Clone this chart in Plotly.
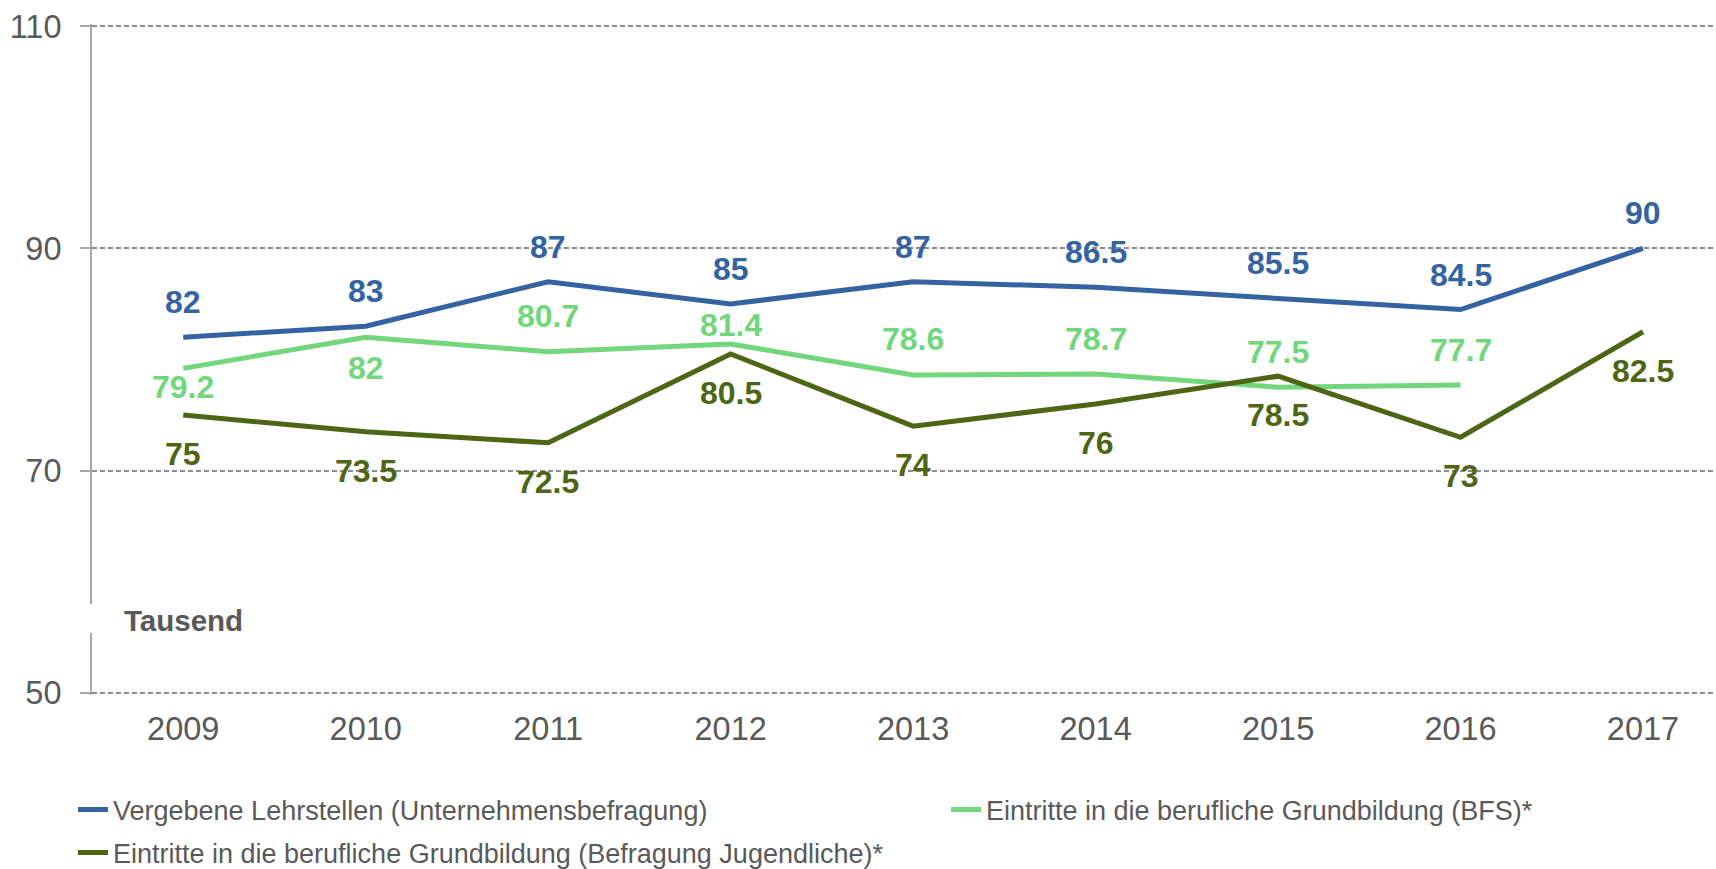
import plotly.graph_objects as go

years = ["2009", "2010", "2011", "2012", "2013", "2014", "2015", "2016", "2017"]
lehrstellen = [82, 83, 87, 85, 87, 86.5, 85.5, 84.5, 90]
bfs = [79.2, 82, 80.7, 81.4, 78.6, 78.7, 77.5, 77.7, None]
jugendliche = [75, 73.5, 72.5, 80.5, 74, 76, 78.5, 73, 82.5]
y_ticks = [50, 70, 90, 110]

names = [
    "Vergebene Lehrstellen (Unternehmensbefragung)",
    "Eintritte in die berufliche Grundbildung (BFS)*",
    "Eintritte in die berufliche Grundbildung (Befragung Jugendliche)*",
]
colors = ["#3462A3", "#72D67C", "#4E6515"]
series = [lehrstellen, bfs, jugendliche]

# label offsets (pixels, + = above)
label_shifts = [
    [35] * 9,
    [-19, -31, 36, 19, 36, 35, 35, 35, 0],
    [-39] * 9,
]

W, H = 1716, 869
L, T, B = 92, 24, 174
FONT = "Liberation Sans, Arial, sans-serif"
GRAY = "#595959"
PH = H - B - T  # plot height in px
PW = W - L


def py(px):
    """pixel row -> paper y"""
    return (H - B - px) / PH


def px_(x):
    """pixel column -> paper x"""
    return (x - L) / PW


fig = go.Figure()
legend_ids = ["legend", "legend2", "legend3"]
for i in range(3):
    fig.add_trace(go.Scatter(
        x=years, y=series[i], name=names[i], mode="lines",
        line=dict(color=colors[i], width=5),
        connectgaps=False, legend=legend_ids[i], hoverinfo="x+y+name",
    ))

annotations = []
for i in range(3):
    for k, (v, s) in enumerate(zip(series[i], label_shifts[i])):
        if v is None:
            continue
        annotations.append(dict(
            x=k, y=v, xref="x", yref="y", text=f"<b>{v:g}</b>", showarrow=False,
            yshift=s, font=dict(family=FONT, size=32, color=colors[i]),
        ))

annotations.append(dict(
    xref="paper", yref="paper", x=px_(122), y=py(620),
    xanchor="left", yanchor="middle", text="<b>Tausend</b>", showarrow=False,
    font=dict(family=FONT, size=29.5, color=GRAY),
))

shapes = [dict(
    type="rect", xref="paper", yref="paper",
    x0=px_(86), x1=px_(245), y0=py(633), y1=py(604),
    fillcolor="white", line=dict(width=0), layer="above",
)]

leg_common = dict(
    xref="container", yref="container", orientation="h",
    font=dict(family=FONT, size=27, color=GRAY), bgcolor="rgba(0,0,0,0)",
    xanchor="left", yanchor="middle", itemwidth=30,
)

fig.update_layout(
    width=W, height=H,
    margin=dict(l=L, r=0, t=T, b=B),
    plot_bgcolor="white", paper_bgcolor="white",
    font=dict(family=FONT, color=GRAY),
    xaxis=dict(
        type="category", range=[-0.5, 8.4], showgrid=False, zeroline=False,
        showline=False, ticks="", tickfont=dict(size=32.5, color=GRAY),
        ticklabelstandoff=11,
    ),
    yaxis=dict(
        range=[49.8, 110.2], tickvals=y_ticks, showgrid=True,
        gridcolor="#8C8C8C", griddash="5px,3px", gridwidth=1.5,
        zeroline=False, showline=True, linecolor="#A6A6A6", linewidth=2,
        ticks="outside", ticklen=10, tickcolor="#A6A6A6", tickwidth=1.5,
        tickfont=dict(size=32.5, color=GRAY), ticklabelstandoff=12,
    ),
    legend=dict(x=(115 - 42) / W, y=1 - 810 / H, **leg_common),
    legend2=dict(x=(988 - 42) / W, y=1 - 810 / H, **leg_common),
    legend3=dict(x=(115 - 42) / W, y=1 - 853 / H, **leg_common),
    annotations=annotations, shapes=shapes,
    showlegend=True,
)

fig.write_html(
    "out.html",
    config={"displayModeBar": False},
    post_script="document.body.style.margin='0';document.body.style.overflow='hidden';",
)
